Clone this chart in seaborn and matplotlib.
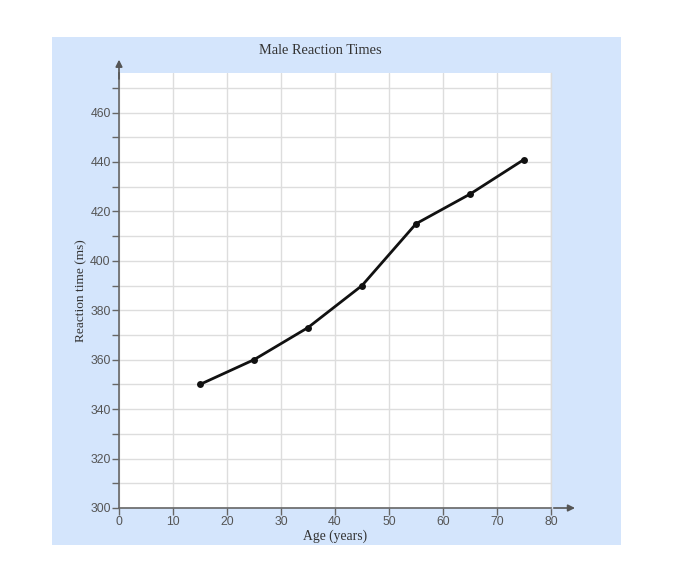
import matplotlib
matplotlib.use('Agg')
import matplotlib.pyplot as plt
import matplotlib.patches as mpatches
from matplotlib.ticker import MultipleLocator
import seaborn as sns
import pandas as pd

# data
ages = [15, 25, 35, 45, 55, 65, 75]
reaction_ms = [350, 360, 373, 390, 415, 427, 441]

df = pd.DataFrame({'age': ages, 'reaction': reaction_ms})

sns.set_theme(style='white')
plt.rcParams['font.family'] = ['Liberation Sans', 'DejaVu Sans']

fig = plt.figure(figsize=(6.96, 5.68), dpi=100)
fig.patch.set_facecolor('white')

# light blue panel behind the chart
W, H = 696, 568
panel = mpatches.Rectangle((52 / W, 1 - 545 / H), (621 - 52) / W, (545 - 37) / H,
                           transform=fig.transFigure, facecolor='#d4e5fc',
                           edgecolor='none', zorder=-10)
fig.patches.append(panel)

ax = fig.add_axes([119 / W, 1 - 508 / H, (551 - 119) / W, (508 - 73) / H])
ax.set_facecolor('white')

sns.lineplot(data=df, x='age', y='reaction', ax=ax, color='#111111',
             linewidth=2, marker='o', markersize=5, markeredgewidth=0,
             zorder=3)

ax.set_xlim(0, 80)
ax.set_ylim(300, 476)
ax.xaxis.set_major_locator(MultipleLocator(10))
ax.yaxis.set_major_locator(MultipleLocator(20))
ax.yaxis.set_minor_locator(MultipleLocator(10))
ax.grid(True, which='both', color='#dddddd', linewidth=1)
ax.set_axisbelow(True)

ax.spines['top'].set_visible(False)
ax.spines['right'].set_color('#dddddd')
ax.spines['right'].set_linewidth(1)
for side in ['left', 'bottom']:
    ax.spines[side].set_color('#666666')
    ax.spines[side].set_linewidth(1.2)

ax.tick_params(axis='both', which='major', direction='out', length=5,
               width=1, color='#666666', labelcolor='#555555', labelsize=8.8,
               left=True, bottom=True, pad=1)
ax.tick_params(axis='y', which='minor', direction='out', length=5,
               width=1, color='#666666', left=True)

# axis arrows
ax.annotate('', xy=(0, 1.037), xytext=(0, 0.98), xycoords='axes fraction',
            arrowprops=dict(arrowstyle='-|>', color='#555555', lw=1.2,
                            mutation_scale=10), annotation_clip=False)
ax.annotate('', xy=(1.062, 0), xytext=(1.0, 0), xycoords='axes fraction',
            arrowprops=dict(arrowstyle='-|>', color='#555555', lw=1.2,
                            mutation_scale=10), annotation_clip=False)

serif = ['Liberation Serif', 'DejaVu Serif']
ax.set_xlabel('Age (years)', family=serif, fontsize=9.8, color='#333333',
              labelpad=1)
ax.set_ylabel('Reaction time (ms)', family=serif, fontsize=9.6,
              color='#333333', labelpad=2)
fig.text(320 / W, 1 - 50 / H, 'Male Reaction Times', family=serif,
         fontsize=10.4, color='#333333', ha='center', va='center')

fig.savefig('out.png', dpi=100, facecolor='white')
